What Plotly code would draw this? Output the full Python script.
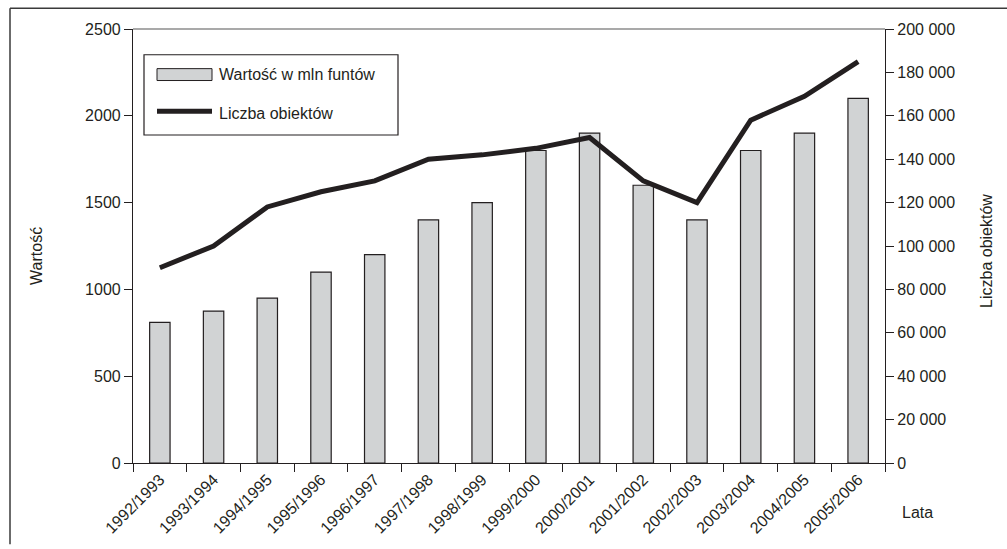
import plotly.graph_objects as go

# Seasons on the category axis
seasons = ["1992/1993", "1993/1994", "1994/1995", "1995/1996", "1996/1997",
           "1997/1998", "1998/1999", "1999/2000", "2000/2001", "2001/2002",
           "2002/2003", "2003/2004", "2004/2005", "2005/2006"]

# Value in millions of pounds (bars, left axis)
value_mln = [810, 875, 950, 1100, 1200, 1400, 1500, 1800, 1900, 1600, 1400, 1800, 1900, 2100]

# Number of objects (line, right axis)
objects = [90000, 100000, 118000, 125000, 130000, 140000, 142000, 145000, 150000,
           130000, 120000, 158000, 169000, 185000]

# Tick values for both value axes
left_ticks = [0, 500, 1000, 1500, 2000, 2500]
right_ticks = [0, 20000, 40000, 60000, 80000, 100000, 120000, 140000, 160000, 180000, 200000]
right_ticktext = [f"{v:,}".replace(",", " ") for v in right_ticks]

INK = "#231f20"
BAR_FILL = "#d1d3d4"
FONT = "Liberation Sans, Arial, sans-serif"

W, H = 1007, 549
L, R, T, B = 133, 122, 29, 82
PW, PH = W - L - R, H - T - B


def px(x):
    return (x - L) / PW


def py(y):
    return (H - B - y) / PH


n = len(seasons)
boundaries = [i - 0.5 for i in range(n + 1)]

fig = go.Figure()
fig.add_trace(go.Bar(
    x=seasons, y=value_mln, name="Wartość w mln funtów",
    marker=dict(color=BAR_FILL, line=dict(color=INK, width=1.2)),
    width=0.38, showlegend=False, hoverinfo="x+y",
))
fig.add_trace(go.Scatter(
    x=seasons, y=objects, yaxis="y2", name="Liczba obiektów",
    mode="lines", line=dict(color=INK, width=5),
    showlegend=False,
))

tick_common = dict(ticklen=8, tickwidth=1.2, tickcolor=INK, showgrid=False, zeroline=False)

fig.update_layout(
    width=W, height=H,
    margin=dict(l=L, r=R, t=T, b=B, pad=0),
    paper_bgcolor="white", plot_bgcolor="white",
    font=dict(family=FONT, size=16, color=INK),
    showlegend=False,
    xaxis=dict(
        type="category", range=[-0.5, n - 0.5], tickson="boundaries",
        ticks="outside", tickangle=-45, showline=True, linecolor=INK, linewidth=1.2,
        tickfont=dict(size=16), **tick_common,
    ),
    xaxis2=dict(
        overlaying="x", anchor="y", side="bottom", range=[-0.5, n - 0.5],
        tickmode="array", tickvals=boundaries, ticks="inside",
        showticklabels=False, showline=False, **tick_common,
    ),
    yaxis=dict(
        range=[0, 2500], tickmode="array", tickvals=left_ticks,
        ticks="outside", showline=True, linecolor=INK, linewidth=1.2,
        **tick_common,
    ),
    yaxis2=dict(
        overlaying="y", side="right", anchor="x", range=[0, 200000],
        tickmode="array", tickvals=right_ticks, ticktext=right_ticktext,
        ticks="outside", showline=True, linecolor=INK, linewidth=1.2,
        **tick_common,
    ),
    yaxis3=dict(
        overlaying="y", side="left", anchor="x", range=[0, 2500],
        tickmode="array", tickvals=left_ticks, ticks="inside",
        showticklabels=False, showline=False, **tick_common,
    ),
    yaxis4=dict(
        overlaying="y", side="right", anchor="x", range=[0, 200000],
        tickmode="array", tickvals=right_ticks, ticks="inside",
        showticklabels=False, showline=False, **tick_common,
    ),
)

shapes = [
    # outer frame (top and left edges)
    dict(type="line", xref="paper", yref="paper", x0=px(10), x1=px(W), y0=py(8), y1=py(8),
         line=dict(color="#3a3a3a", width=1.5)),
    dict(type="line", xref="paper", yref="paper", x0=px(10), x1=px(10), y0=py(8), y1=py(H),
         line=dict(color="#3a3a3a", width=1.5)),
    # top edge of the plotting area
    dict(type="line", xref="paper", yref="paper", x0=0, x1=1, y0=1, y1=1,
         line=dict(color="#8c8c8c", width=1.5)),
    # legend box
    dict(type="rect", xref="paper", yref="paper", x0=px(144), x1=px(398), y0=py(136), y1=py(55),
         line=dict(color=INK, width=1.2), fillcolor="white", layer="above"),
    # legend keys
    dict(type="rect", xref="paper", yref="paper", x0=px(157), x1=px(212), y0=py(81), y1=py(69),
         line=dict(color=INK, width=1), fillcolor=BAR_FILL, layer="above"),
    dict(type="line", xref="paper", yref="paper", x0=px(157), x1=px(212), y0=py(112), y1=py(112),
         line=dict(color=INK, width=5), layer="above"),
]
fig.update_layout(shapes=shapes)

annotations = [
    dict(text="Wartość w mln funtów", x=px(217), y=py(75), xanchor="left", yanchor="middle"),
    dict(text="Liczba obiektów", x=px(217), y=py(114), xanchor="left", yanchor="middle"),
    dict(text="Wartość", x=px(37), y=py(258), xanchor="center", yanchor="middle", textangle=-90),
    dict(text="Liczba obiektów", x=px(987), y=py(253), xanchor="center", yanchor="middle", textangle=-90),
    dict(text="Lata", x=px(900), y=py(517), xanchor="left", yanchor="middle"),
]
for a in annotations:
    a.update(xref="paper", yref="paper", showarrow=False, font=dict(family=FONT, size=16, color=INK))
fig.update_layout(annotations=annotations)

fig.write_html("out.html")
